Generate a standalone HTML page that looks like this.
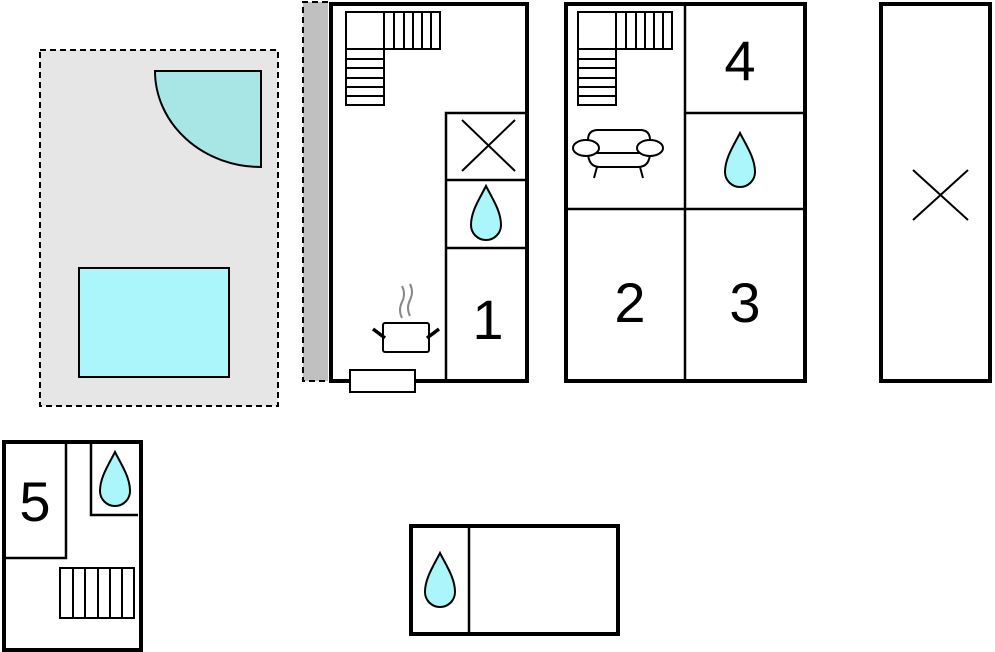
<!DOCTYPE html>
<html><head><meta charset="utf-8"><style>html,body{margin:0;padding:0;background:#fff}svg{display:block}</style></head>
<body>
<svg width="995" height="652" viewBox="0 0 995 652" xmlns="http://www.w3.org/2000/svg" font-family="Liberation Sans, sans-serif">
<defs>
<path id="drop" d="M0,-28 C-6,-16 -15,-3 -15,11 A15,15 0 0 0 15,11 C15,-3 6,-16 0,-28 Z" fill="#aaf6fa" stroke="#000" stroke-width="2"/>
<g id="stairs" fill="#fff" stroke="#000" stroke-width="2">
<rect x="0" y="0" width="94" height="37"/>
<rect x="0" y="37" width="38" height="56"/>
<line x1="38" y1="0" x2="38" y2="37"/>
<path d="M48,0V37M58,0V37M67,0V37M76,0V37M85,0V37"/>
<path d="M0,47H38M0,56H38M0,66H38M0,75H38M0,84H38"/>
</g>
</defs>
<!-- terrace -->
<rect x="40" y="50" width="238" height="356" fill="#e6e6e6" stroke="#000" stroke-width="2" stroke-dasharray="6,4"/>
<path d="M155,71 H261 V167 A106,96 0 0 1 155,71 Z" fill="#a8e6e6" stroke="#000" stroke-width="2"/>
<rect x="79" y="268" width="150" height="109" fill="#aaf6fa" stroke="#000" stroke-width="2"/>
<!-- gray strip -->
<rect x="303" y="2" width="25" height="379" fill="#c0c0c0"/>
<path d="M328,2 H303 V381 H328" fill="none" stroke="#000" stroke-width="2" stroke-dasharray="6,4"/>
<!-- building 1 -->
<rect x="331" y="4" width="196" height="377" fill="#fff" stroke="#000" stroke-width="4"/>
<use href="#stairs" x="346" y="12"/>
<path d="M446,381 V113 H527 M446,180 H527 M446,248 H527" fill="none" stroke="#000" stroke-width="2.5"/>
<path d="M462,120 L515,171 M515,120 L462,171" stroke="#000" stroke-width="2"/>
<use href="#drop" x="486" y="214"/>
<text x="488" y="339" font-size="56" text-anchor="middle">1</text>
<path d="M402,318 q-4,-8 0,-16 q4,-8 0,-16 M410,316 q-4,-8 0,-16 q4,-8 0,-16" fill="none" stroke="#888" stroke-width="2"/>
<rect x="383" y="323" width="46" height="29" rx="2" fill="#fff" stroke="#000" stroke-width="2"/>
<path d="M373,329 L385,338 M439,329 L427,338" stroke="#000" stroke-width="3.5"/>
<rect x="350" y="370" width="65" height="22" fill="#fff" stroke="#000" stroke-width="2"/>
<!-- building 2 -->
<rect x="566" y="4" width="239" height="377" fill="#fff" stroke="#000" stroke-width="4"/>
<path d="M685,4 V381 M566,209 H805 M685,113 H805" fill="none" stroke="#000" stroke-width="2.5"/>
<use href="#stairs" x="578" y="12"/>
<text x="740" y="80" font-size="56" text-anchor="middle">4</text>
<use href="#drop" x="740" y="161"/>
<text x="630" y="322" font-size="56" text-anchor="middle">2</text>
<text x="745" y="322" font-size="56" text-anchor="middle">3</text>
<g fill="#fff" stroke="#000" stroke-width="2">
<path d="M588,148 V140 Q588,130 598,130 H640 Q650,130 650,140 V148"/>
<path d="M588,152 Q588,167 600,167 H638 Q650,167 650,152"/>
<line x1="597" y1="167" x2="594" y2="178"/><line x1="640" y1="167" x2="643" y2="178"/>
<line x1="596" y1="153" x2="642" y2="153"/>
<ellipse cx="586" cy="148" rx="13" ry="8"/>
<ellipse cx="650" cy="148" rx="13" ry="8"/>
</g>
<!-- building 3 -->
<rect x="881" y="4" width="109" height="377" fill="#fff" stroke="#000" stroke-width="4"/>
<path d="M913,170 L968,220 M968,170 L913,220" stroke="#000" stroke-width="2"/>
<!-- building 5 -->
<rect x="4" y="442" width="137" height="208" fill="#fff" stroke="#000" stroke-width="4"/>
<path d="M4,558 H66 V442 M91,442 V515 H138" fill="none" stroke="#000" stroke-width="2.5"/>
<text x="35" y="521" font-size="56" text-anchor="middle">5</text>
<use href="#drop" x="115" y="480"/>
<g fill="#fff" stroke="#000" stroke-width="2">
<rect x="60" y="568" width="74" height="50"/>
<path d="M73,568V618M85,568V618M98,568V618M110,568V618M122,568V618"/>
</g>
<!-- bottom -->
<rect x="411" y="526" width="207" height="108" fill="#fff" stroke="#000" stroke-width="4"/>
<line x1="469" y1="526" x2="469" y2="634" stroke="#000" stroke-width="2.5"/>
<use href="#drop" x="440" y="581"/>
</svg>
</body></html>
